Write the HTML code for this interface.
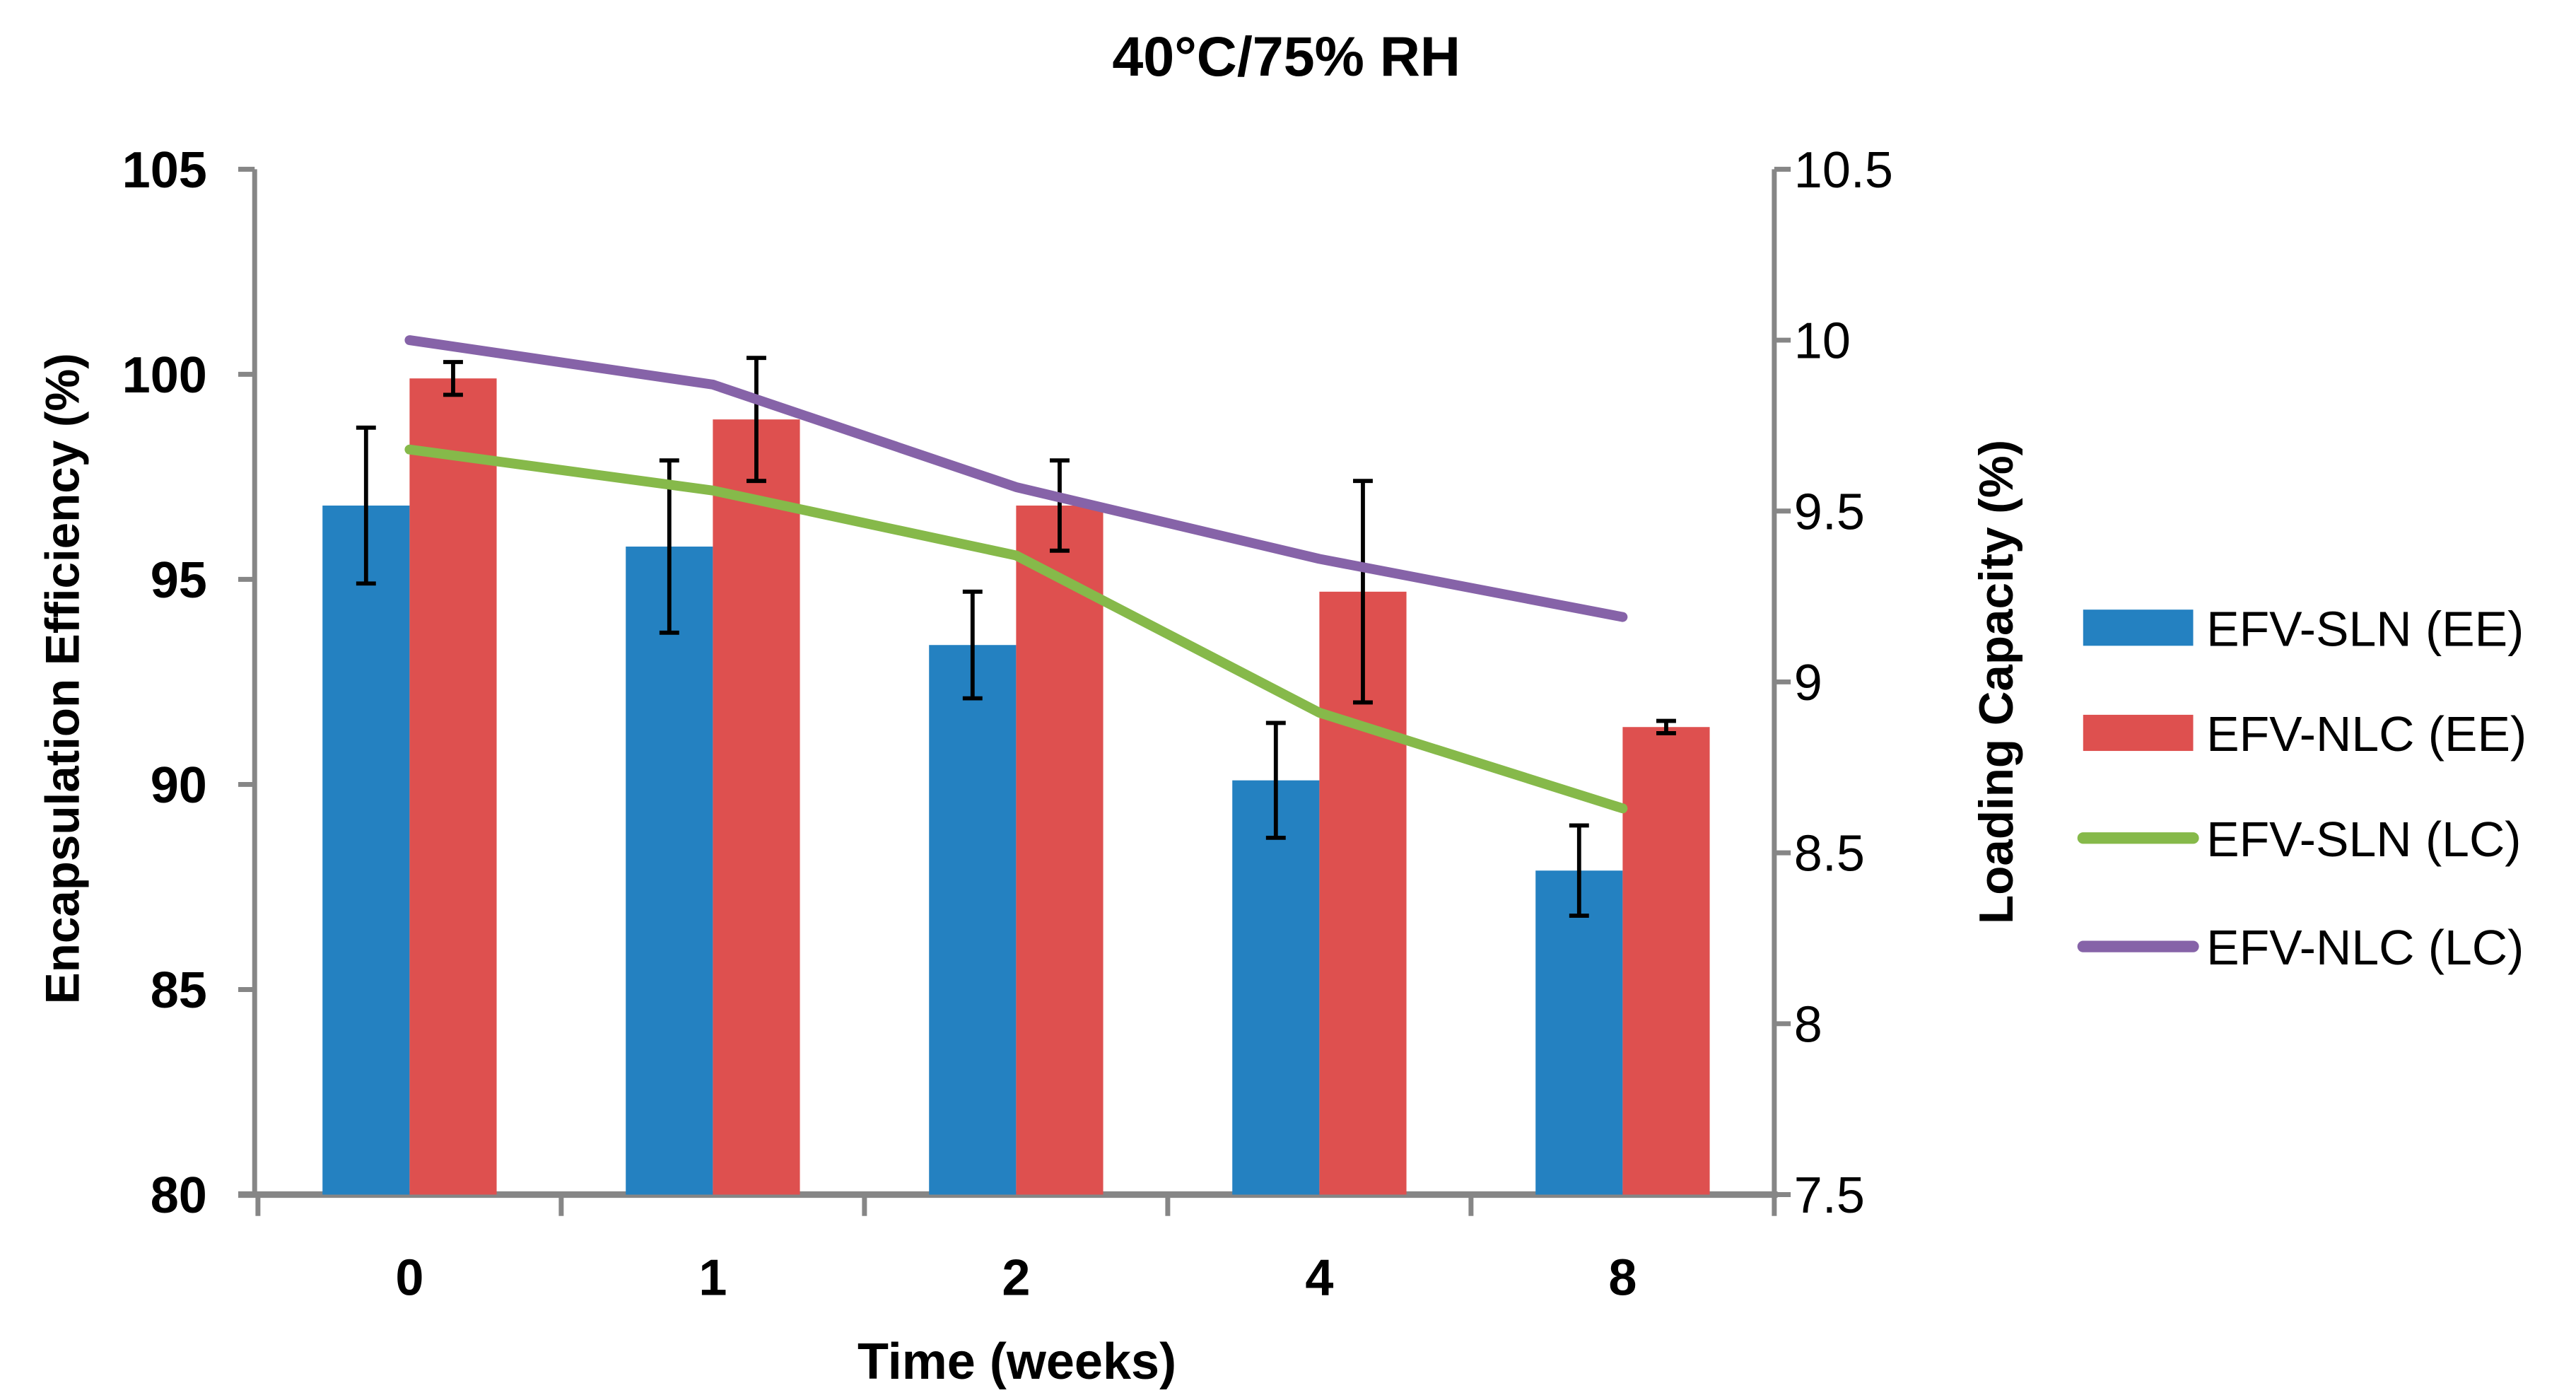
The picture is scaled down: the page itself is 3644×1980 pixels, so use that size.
<!DOCTYPE html>
<html><head><meta charset="utf-8"><style>
html,body{margin:0;padding:0;background:#fff;}
svg{display:block;font-family:"Liberation Sans",sans-serif;}
</style></head><body>
<svg id="chart" width="3644" height="1980" viewBox="0 0 1568 852" xmlns="http://www.w3.org/2000/svg">
<text x="783" y="46" text-anchor="middle" font-size="34" font-weight="bold">40°C/75% RH</text>
<g id="axes"></g>
<g id="bars"></g>
<g id="lines"></g>
<text transform="translate(48,413) rotate(-90)" text-anchor="middle" font-size="29" font-weight="bold">Encapsulation Efficiency (%)</text>
<text transform="translate(1225,415) rotate(-90)" text-anchor="middle" font-size="29" font-weight="bold">Loading Capacity (%)</text>
<text x="619" y="839" text-anchor="middle" font-size="31" font-weight="bold">Time (weeks)</text>
<g font-size="30">
<rect x="1268" y="371" width="67" height="22" fill="#2481c1"/>
<text x="1343" y="393">EFV-SLN (EE)</text>
<rect x="1268" y="435" width="67" height="22" fill="#de504f"/>
<text x="1343" y="457">EFV-NLC (EE)</text>
<line x1="1268" y1="510" x2="1335" y2="510" stroke="#86b94a" stroke-width="7" stroke-linecap="round"/>
<text x="1343" y="521">EFV-SLN (LC)</text>
<line x1="1268" y1="576" x2="1335" y2="576" stroke="#8663a8" stroke-width="7" stroke-linecap="round"/>
<text x="1343" y="587">EFV-NLC (LC)</text>
</g>
</svg>
<script>
const categories = ["0","1","2","4","8"];
const slnEE = [96.8, 95.8, 93.4, 90.1, 87.9];
const slnEEErr = [1.9, 2.1, 1.3, 1.4, 1.1];
const nlcEE = [99.9, 98.9, 96.8, 94.7, 91.4];
const nlcEEErr = [0.4, 1.5, 1.1, 2.7, 0.15];
const slnLC = [9.68, 9.56, 9.37, 8.91, 8.63];
const nlcLC = [10.0, 9.87, 9.57, 9.36, 9.19];
const leftTicks = [80, 85, 90, 95, 100, 105];
const rightTicks = [7.5, 8, 8.5, 9, 9.5, 10, 10.5];

const NS = "http://www.w3.org/2000/svg";
const X0 = 157, X1 = 1080, Y0 = 727, Y1 = 103;
const bw = (X1 - X0) / categories.length;
const xc = i => X0 + bw * (i + 0.5);
const yL = v => Y0 - (v - 80) / 25 * (Y0 - Y1);
const yR = v => Y0 - (v - 7.5) / 3 * (Y0 - Y1);
function mk(tag, attrs, parent) {
  const e = document.createElementNS(NS, tag);
  for (const k in attrs) e.setAttribute(k, attrs[k]);
  parent.appendChild(e);
  return e;
}
const axes = document.getElementById('axes');
const bars = document.getElementById('bars');
const lines = document.getElementById('lines');
const G = '#868686';

let a = mk('line', {x1:X0-2, y1:Y1, x2:X0-2, y2:Y0, stroke:G, 'stroke-width':3}, axes);


a = mk('line', {x1:X1, y1:Y1, x2:X1, y2:Y0, stroke:G, 'stroke-width':3}, axes);



leftTicks.forEach(v => {
  const y = yL(v);
  const t = mk('line', {x1:X0-12, y1:y, x2:X0-2, y2:y, stroke:G, 'stroke-width':3}, axes);
  
  
  const l = mk('text', {x:126, y:y+11, 'text-anchor':'end', 'font-size':31, 'font-weight':'bold'}, axes);
  l.textContent = v;
  
  
});
rightTicks.forEach(v => {
  const y = yR(v);
  const t = mk('line', {x1:X1, y1:y, x2:X1+10, y2:y, stroke:G, 'stroke-width':3}, axes);
  
  
  const l = mk('text', {x:1092, y:y+11, 'text-anchor':'start', 'font-size':31}, axes);
  l.textContent = v;
  
  
});

categories.forEach((c, i) => {
  const x = xc(i);
  const drawBar = (v, err, left, color, name) => {
    const bx = left ? x - 53 : x;
    const r = mk('rect', {x:bx, y:yL(v), width:53, height:Y0 - yL(v), fill:color}, bars);
    
    
    const cx = bx + 26.5;
    const eg = mk('g', {stroke:'#000', 'stroke-width':2.5}, bars);
    
    
    mk('line', {x1:cx, y1:yL(v+err), x2:cx, y2:yL(v-err)}, eg);
    mk('line', {x1:cx-6, y1:yL(v+err), x2:cx+6, y2:yL(v+err)}, eg);
    mk('line', {x1:cx-6, y1:yL(v-err), x2:cx+6, y2:yL(v-err)}, eg);
  };
  drawBar(slnEE[i], slnEEErr[i], true, '#2481c1', 'bar-sln-ee-' + c);
  drawBar(nlcEE[i], nlcEEErr[i], false, '#de504f', 'bar-nlc-ee-' + c);
  const l = mk('text', {x:x, y:788, 'text-anchor':'middle', 'font-size':31, 'font-weight':'bold'}, axes);
  l.textContent = c;
  
  
});
for (let i = 0; i <= categories.length; i++) {
  const x = X0 + bw * i;
  const t = mk('line', {x1:x, y1:Y0, x2:x, y2:Y0+13, stroke:G, 'stroke-width':3}, axes);
  
  
}
a = mk('line', {x1:X0-12, y1:Y0, x2:X1+2, y2:Y0, stroke:G, 'stroke-width':4}, axes);



const drawLine = (vals, color, name) => {
  const pts = vals.map((v, i) => xc(i) + ',' + yR(v)).join(' ');
  const p = mk('polyline', {points:pts, fill:'none', stroke:color, 'stroke-width':6, 'stroke-linecap':'round', 'stroke-linejoin':'round'}, lines);
  
  
};
drawLine(slnLC, '#86b94a', 'line-sln-lc');
drawLine(nlcLC, '#8663a8', 'line-nlc-lc');
</script>
</body></html>
